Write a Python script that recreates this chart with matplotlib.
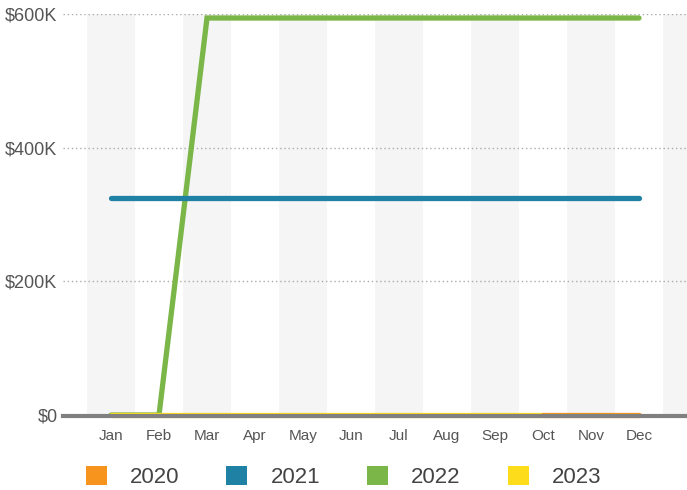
import matplotlib
matplotlib.use("Agg")
import matplotlib.pyplot as plt
from matplotlib.patches import Patch
from matplotlib.ticker import FuncFormatter

months = ["Jan", "Feb", "Mar", "Apr", "May", "Jun", "Jul", "Aug", "Sep", "Oct", "Nov", "Dec"]
series_names = ["2020", "2021", "2022", "2023"]
colors = ["#F7941D", "#1F82A4", "#7AB648", "#FDDC1C"]

# values (None = no data)
v2020 = [None, None, None, None, None, None, None, None, None, 0, 0, 0]
v2021 = [325000] * 12
v2022 = [0, 0, 594000, 594000, 594000, 594000, 594000, 594000, 594000, 594000, 594000, 594000]
v2023 = [0, 0, 0, 0, 0, 0, 0, 0, 0, 0, None, None]
yticks = [0, 200000, 400000, 600000]

plt.rcParams['font.family'] = ['Liberation Sans', 'DejaVu Sans']
fig = plt.figure(figsize=(6.87, 4.90), dpi=100)
ax = fig.add_axes([63/687, 1 - 415/490, 1 - 63/687, (415 - 14)/490])

# alternating bands
for i in range(0, 13, 2):
    ax.axvspan(i - 0.5, i + 0.5, color="#F5F5F5", zorder=0, lw=0)

xs = list(range(12))
for vals, ci in [(v2022, 2), (v2021, 1), (v2023, 3), (v2020, 0)]:
    px = [x for x, v in zip(xs, vals) if v is not None]
    py = [v for v in vals if v is not None]
    ax.plot(px, py, color=colors[ci], lw=3.8, solid_capstyle='round',
            solid_joinstyle='miter', zorder=3, clip_on=False)

for y in yticks[1:]:
    ax.axhline(y, color="#AAAAAA", lw=1.0, ls=(0, (1, 2)), zorder=1)
ax.axhline(-1200, color="#808080", lw=3.0, zorder=4, clip_on=False)

ax.set_xlim(-1, 12)
ax.set_ylim(0, 600000)
ax.set_xticks(xs)
ax.set_xticklabels(months)
ax.set_yticks(yticks)
ax.yaxis.set_major_formatter(FuncFormatter(lambda v, p: "$0" if v == 0 else f"${int(v/1000)}K"))
ax.tick_params(axis='x', length=0, labelsize=11, labelcolor="#555555", pad=10)
ax.tick_params(axis='y', length=0, labelsize=13, labelcolor="#555555", pad=4)
for s in ax.spines.values():
    s.set_visible(False)
ax.patch.set_alpha(0)

handles = [Patch(facecolor=c, edgecolor='none') for c in colors]
fig.legend(handles, series_names, loc='center', bbox_to_anchor=(0.5, 1 - 477/490),
           ncol=4, frameon=False, fontsize=16, handlelength=0.95, handleheight=0.95,
           handletextpad=1.05, columnspacing=2.1, labelcolor="#444444")

fig.savefig("out.png", dpi=100)
